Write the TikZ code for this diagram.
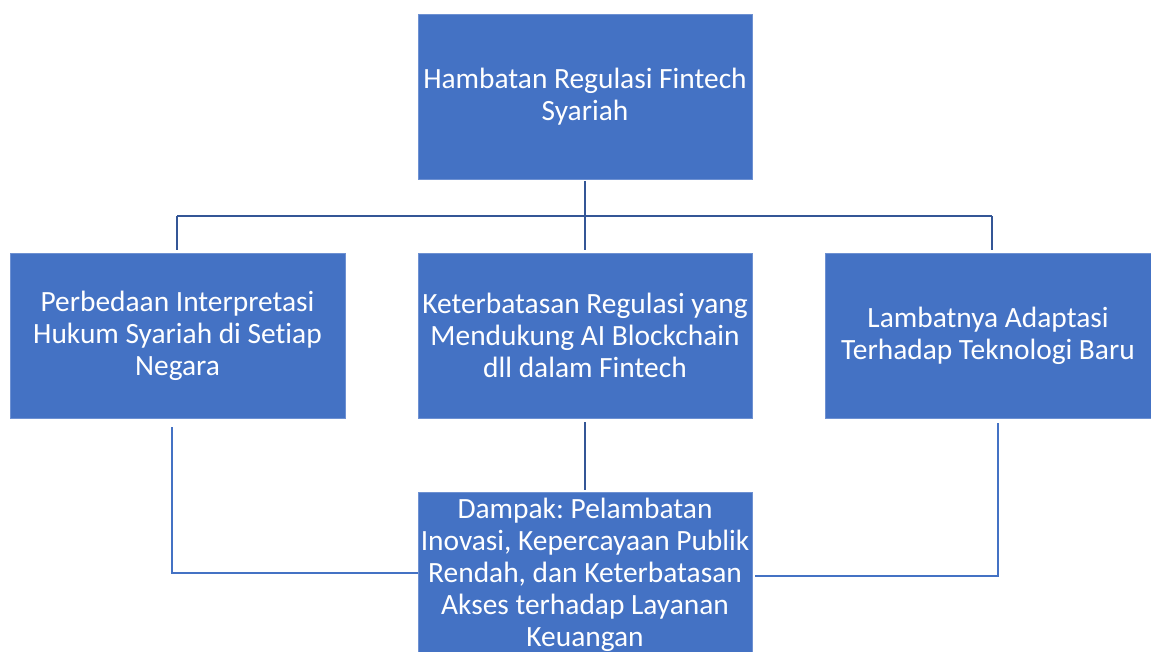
\documentclass[tikz,border=0pt]{standalone}
\usepackage{fontspec}
\setmainfont[Ligatures=CommonOff]{Carlito}
\frenchspacing
\definecolor{boxblue}{RGB}{68,114,196}
\definecolor{boxedge}{RGB}{110,145,210}
\definecolor{darkline}{RGB}{52,86,150}
\tikzset{
  blk/.style={rectangle, fill=boxblue, draw=boxedge, line width=0.6pt, inner sep=0pt,
    minimum width=334pt, minimum height=165pt, align=center, text=white,
    font=\fontsize{29.4}{32}\selectfont},
  thickconn/.style={draw=darkline, line width=2.6pt},
  thinconn/.style={draw=boxblue, line width=1.3pt},
}
\begin{document}
\begin{tikzpicture}[x=1pt,y=-1pt]
\useasboundingbox (0,0) rectangle (1151,651);
\clip (0,0) rectangle (1151,651);
\node[blk] (top) at (585,96.5) {Hambatan Regulasi Fintech\\Syariah};
\node[blk, minimum width=335pt] (L) at (177.5,335.5) {Perbedaan Interpretasi\\Hukum Syariah di Setiap\\Negara};
\node[blk] (M) at (585,335.5) {Keterbatasan Regulasi yang\\Mendukung AI Blockchain\\dll dalam Fintech};
\node[blk, minimum width=326pt] (R) at (988,335.5) {Lambatnya Adaptasi\\Terhadap Teknologi Baru};
\node[blk] (B) at (585,574.5) {Dampak: Pelambatan\\Inovasi, Kepercayaan Publik\\Rendah, dan Keterbatasan\\Akses terhadap Layanan\\Keuangan};
% upper tree
\coordinate (j) at (585,216);
\draw[thickconn] ([yshift=-2pt]top.south) -- (j);
\draw[thickconn] ([xshift=-0.5pt]L.north |- j) -- ([xshift=4pt]R.north |- j);
\draw[thickconn] ([xshift=-0.5pt]L.north |- j) -- ([xshift=-0.5pt,yshift=3pt]L.north);
\draw[thickconn] (j) -- ([yshift=3pt]M.north);
\draw[thickconn] ([xshift=4pt]R.north |- j) -- ([xshift=4pt,yshift=3pt]R.north);
% lower connectors
\draw[thickconn] ([yshift=-4pt]M.south) -- ([yshift=2pt]B.north);
\draw[thinconn] ([xshift=-5.5pt,yshift=-9pt]L.south) |- (B.west |- 0,573);
\draw[thinconn] ([xshift=10pt,yshift=-5pt]R.south) |- ([xshift=3pt]B.east |- 0,576);
\end{tikzpicture}
\end{document}
